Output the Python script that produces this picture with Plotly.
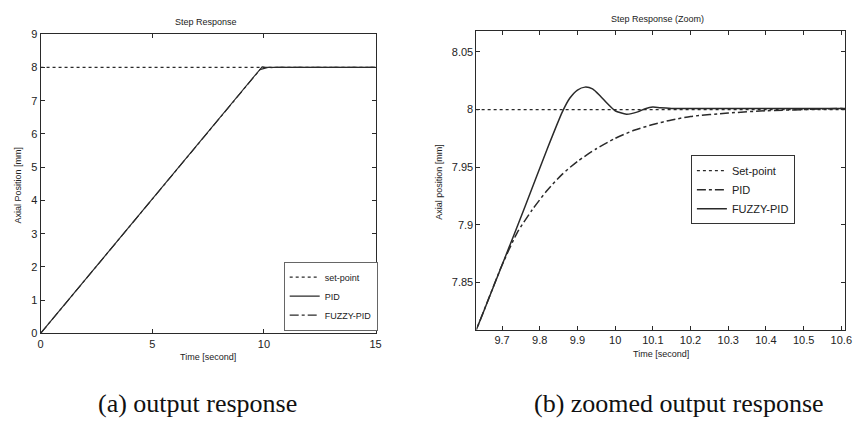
import plotly.graph_objects as go

# ---- data ----
t_over = [0, 9.632, 9.70, 9.76, 9.82, 9.86, 9.88, 9.90, 9.92, 9.94, 9.96, 9.98, 10.00,
          10.03, 10.06, 10.08, 10.10, 10.12, 10.15, 10.6, 15]
y_over = [0, 7.809, 7.865, 7.915, 7.966, 7.998, 8.010, 8.017, 8.0195, 8.018, 8.012, 8.005,
          7.999, 7.996, 7.998, 8.0008, 8.0022, 8.0015, 8.001, 8.001, 8.001]

t_smooth = [0, 9.632, 9.70, 9.74, 9.78, 9.82, 9.86, 9.90, 9.95, 10.0, 10.05, 10.1, 10.15,
            10.2, 10.3, 10.4, 10.5, 10.6, 15]
y_smooth = [0, 7.809, 7.865, 7.893, 7.913, 7.930, 7.944, 7.955, 7.966, 7.975, 7.982, 7.987,
            7.991, 7.994, 7.997, 7.999, 8.0, 8.001, 8.001]

t_set = [0, 15]
y_set = [8, 8]

x_ticks_a = [0, 5, 10, 15]
y_ticks_a = [0, 1, 2, 3, 4, 5, 6, 7, 8, 9]
x_ticks_b = [9.7, 9.8, 9.9, 10.0, 10.1, 10.2, 10.3, 10.4, 10.5, 10.6]
x_text_b = ["9.7", "9.8", "9.9", "10", "10.1", "10.2", "10.3", "10.4", "10.5", "10.6"]
y_ticks_b = [7.85, 7.9, 7.95, 8.0, 8.05]
y_text_b = ["7.85", "7.9", "7.95", "8", "8.05"]

legend_a = ["set-point", "PID", "FUZZY-PID"]
legend_b = ["Set-point", "PID", "FUZZY-PID"]

LC = "#2a2a2a"
FONT = "Liberation Sans, Arial, sans-serif"
SERIF = "Liberation Serif, Times New Roman, serif"

fig = go.Figure()

# left plot (a)
fig.add_trace(go.Scatter(x=t_set, y=y_set, mode="lines", name=legend_a[0],
                         line=dict(color=LC, width=1.2, dash="dot"),
                         xaxis="x", yaxis="y", legend="legend"))
fig.add_trace(go.Scatter(x=t_over, y=y_over, mode="lines", name=legend_a[1],
                         line=dict(color=LC, width=1.2),
                         xaxis="x", yaxis="y", legend="legend"))
fig.add_trace(go.Scatter(x=t_smooth, y=y_smooth, mode="lines", name=legend_a[2],
                         line=dict(color=LC, width=1.2, dash="dashdot"),
                         xaxis="x", yaxis="y", legend="legend"))

# right plot (b)
fig.add_trace(go.Scatter(x=t_set, y=y_set, mode="lines", name=legend_b[0],
                         line=dict(color=LC, width=1.2, dash="dot"),
                         xaxis="x2", yaxis="y2", legend="legend2"))
fig.add_trace(go.Scatter(x=t_smooth, y=y_smooth, mode="lines", name=legend_b[1],
                         line=dict(color=LC, width=1.5, dash="dashdot", shape="spline", smoothing=0.6),
                         xaxis="x2", yaxis="y2", legend="legend2"))
fig.add_trace(go.Scatter(x=t_over, y=y_over, mode="lines", name=legend_b[2],
                         line=dict(color=LC, width=1.5, shape="spline", smoothing=0.6),
                         xaxis="x2", yaxis="y2", legend="legend2"))

W, H = 859, 424
def px_x(p): return p / W
def px_y(p): return 1 - p / H

axis_common = dict(showline=True, linecolor=LC, linewidth=1, mirror="ticks", ticks="inside",
                   ticklen=4, tickcolor=LC, showgrid=False, zeroline=False,
                   tickfont=dict(family=FONT, size=11, color="#222"))

fig.update_layout(
    width=W, height=H, margin=dict(l=0, r=0, t=0, b=0),
    paper_bgcolor="white", plot_bgcolor="white",
    font=dict(family=FONT, color="#222"),
    xaxis=dict(domain=[px_x(38), px_x(377)], range=[0, 15], tickvals=x_ticks_a,
               anchor="y", **axis_common),
    yaxis=dict(domain=[px_y(337), px_y(29)], range=[0, 9], tickvals=y_ticks_a,
               anchor="x", **axis_common),
    xaxis2=dict(domain=[px_x(479), px_x(852)], range=[9.632, 10.61], tickvals=x_ticks_b,
                ticktext=x_text_b, anchor="y2", **axis_common),
    yaxis2=dict(domain=[px_y(333), px_y(26)], range=[7.809, 8.068], tickvals=y_ticks_b,
                ticktext=y_text_b, anchor="x2", **axis_common),
    legend=dict(x=px_x(284), y=px_y(334), xanchor="left", yanchor="bottom",
                bgcolor="white", bordercolor="#666", borderwidth=1,
                font=dict(family=FONT, size=9, color="#222"),
                tracegroupgap=0, itemwidth=30),
    legend2=dict(x=px_x(696), y=px_y(189), xanchor="left", yanchor="middle",
                 bgcolor="white", bordercolor="#333", borderwidth=1,
                 font=dict(family=FONT, size=11, color="#222"),
                 tracegroupgap=0, itemwidth=30),
    showlegend=True,
)

ann = [
    dict(text="Step Response", x=px_x(205), y=px_y(16)),
    dict(text="Step Response (Zoom)", x=px_x(662), y=px_y(13)),
    dict(text="Time [second]", x=px_x(207), y=px_y(361)),
    dict(text="Time [second]", x=px_x(666), y=px_y(358)),
]
annotations = []
for a in ann:
    annotations.append(dict(text=a["text"], x=a["x"], y=a["y"], xref="paper", yref="paper",
                            showarrow=False, xanchor="center", yanchor="middle",
                            font=dict(family=FONT, size=9, color="#222")))
annotations.append(dict(text="Axial Position [mm]", x=px_x(15), y=px_y(184), xref="paper",
                        yref="paper", showarrow=False, textangle=-90, xanchor="center",
                        yanchor="middle", font=dict(family=FONT, size=9, color="#222")))
annotations.append(dict(text="Axial position [mm]", x=px_x(441), y=px_y(181), xref="paper",
                        yref="paper", showarrow=False, textangle=-90, xanchor="center",
                        yanchor="middle", font=dict(family=FONT, size=9, color="#222")))
annotations.append(dict(text="(a) output response", x=px_x(197), y=px_y(409), xref="paper",
                        yref="paper", showarrow=False, xanchor="center", yanchor="middle",
                        font=dict(family=SERIF, size=26, color="#111")))
annotations.append(dict(text="(b) zoomed output response", x=px_x(684), y=px_y(409),
                        xref="paper", yref="paper", showarrow=False, xanchor="center",
                        yanchor="middle", font=dict(family=SERIF, size=26, color="#111")))
fig.update_layout(annotations=annotations)

fig.write_html("out.html", config={"displayModeBar": False},
               post_script="document.body.style.margin='0px';")
